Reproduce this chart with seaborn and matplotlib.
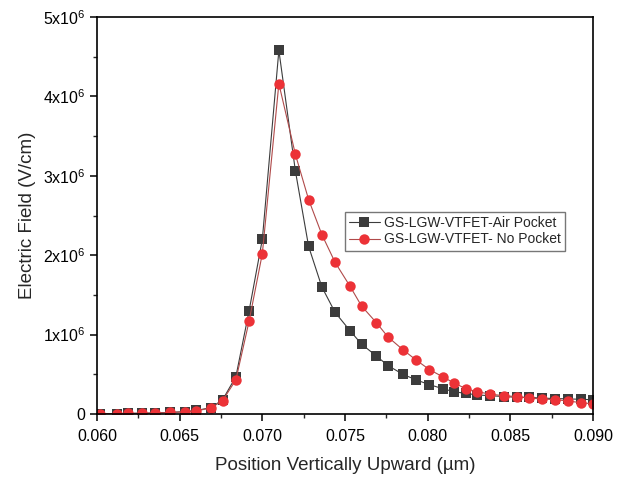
import matplotlib
matplotlib.use("Agg")
import matplotlib.pyplot as plt
from matplotlib.ticker import FuncFormatter, MultipleLocator
import numpy as np
import seaborn as sns

# position (um)
position = [0.0602, 0.0612, 0.0619, 0.0627, 0.0635, 0.0644, 0.0653, 0.0660,
            0.0669, 0.0676, 0.0684, 0.0692, 0.0700, 0.0710, 0.0720, 0.0728,
            0.0736, 0.0744, 0.0753, 0.0760, 0.0769, 0.0776, 0.0785, 0.0793,
            0.0801, 0.0809, 0.0816, 0.0823, 0.0830, 0.0838, 0.0846, 0.0854,
            0.0861, 0.0869, 0.0877, 0.0885, 0.0893, 0.0900]

# electric field, units of 1e6 V/cm
air_pocket = [0.005, 0.006, 0.008, 0.010, 0.013, 0.020, 0.030, 0.045,
              0.080, 0.18, 0.47, 1.30, 2.20, 4.58, 3.06, 2.11,
              1.60, 1.28, 1.05, 0.88, 0.73, 0.61, 0.50, 0.43,
              0.37, 0.32, 0.28, 0.26, 0.24, 0.23, 0.22, 0.21,
              0.21, 0.20, 0.195, 0.19, 0.185, 0.18]
no_pocket = [0.005, 0.005, 0.007, 0.010, 0.012, 0.020, 0.025, 0.040,
             0.075, 0.17, 0.43, 1.17, 2.02, 4.16, 3.27, 2.70,
             2.26, 1.91, 1.61, 1.36, 1.15, 0.97, 0.81, 0.68,
             0.56, 0.47, 0.39, 0.32, 0.28, 0.25, 0.23, 0.22,
             0.20, 0.19, 0.18, 0.165, 0.14, 0.13]

labels = ["GS-LGW-VTFET-Air Pocket", "GS-LGW-VTFET- No Pocket"]

sns.set_theme(style="ticks")
plt.rcParams['font.family'] = ['Liberation Sans', 'DejaVu Sans']
plt.rcParams['mathtext.fontset'] = 'custom'
plt.rcParams['mathtext.rm'] = 'Liberation Sans'

fig = plt.figure(figsize=(6.25, 4.84), dpi=100)
ax = fig.add_axes([97/625, 70/484, 496/625, 397/484])

sns.lineplot(x=position, y=np.array(air_pocket) * 1e6, ax=ax, color="#3c3c3c",
             marker="s", markersize=6.5, markeredgewidth=0, linewidth=0.8,
             label=labels[0])
sns.lineplot(x=position, y=np.array(no_pocket) * 1e6, ax=ax, color="#b04a4a",
             marker="o", markersize=7.5, markerfacecolor="#ec3237",
             markeredgewidth=0, linewidth=0.8, label=labels[1])
# recolour the red markers in the legend
for line in ax.get_lines()[1:]:
    line.set_markerfacecolor("#ec3237")

ax.set_xlim(0.060, 0.090)
ax.set_ylim(0, 5e6)
ax.xaxis.set_major_locator(MultipleLocator(0.005))
ax.xaxis.set_minor_locator(MultipleLocator(0.0025))
ax.yaxis.set_major_locator(MultipleLocator(1e6))
ax.yaxis.set_minor_locator(MultipleLocator(0.5e6))
ax.xaxis.set_major_formatter(FuncFormatter(lambda v, p: "%.3f" % v))
ax.yaxis.set_major_formatter(FuncFormatter(
    lambda v, p: "0" if abs(v) < 1 else r"$\mathregular{%dx10^6}$" % round(v / 1e6)))

ax.tick_params(which="major", direction="out", length=5, width=1.1,
               labelsize=11.5, colors="black")
ax.tick_params(axis="x", which="major", pad=6)
ax.tick_params(which="minor", direction="out", length=3, width=1.0)
for s in ax.spines.values():
    s.set_linewidth(1.2)
    s.set_color("black")

ax.set_xlabel("Position Vertically Upward (µm)", fontsize=13.5, labelpad=9)
ax.set_ylabel("Electric Field (V/cm)", fontsize=13.5, labelpad=5)

leg = ax.legend(loc="upper left", bbox_to_anchor=(0.50, 0.51), fontsize=10,
                frameon=True, fancybox=False, framealpha=1, edgecolor="#777777",
                borderpad=0.3, labelspacing=0.2, handlelength=2.2,
                handletextpad=0.3, borderaxespad=0)
leg.get_frame().set_linewidth(1.0)

plt.savefig("out.png", dpi=100)
